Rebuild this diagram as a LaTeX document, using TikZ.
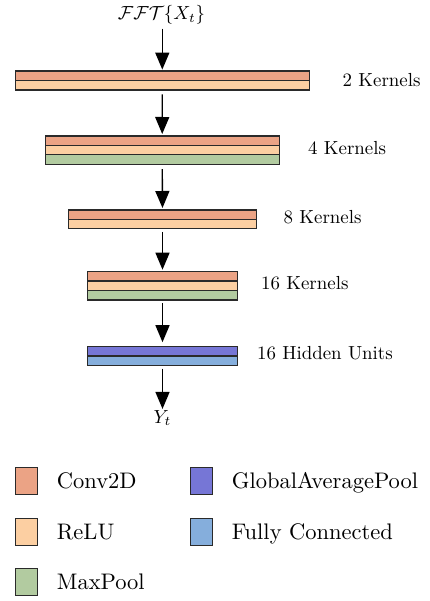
\RequirePackage{fix-cm}
\documentclass[tikz,border=0pt]{standalone}
\usepackage{amsmath}
\usepackage{graphicx}
\usetikzlibrary{arrows.meta}

\definecolor{convc}{HTML}{EBA385}
\definecolor{reluc}{HTML}{FCCFA2}
\definecolor{poolc}{HTML}{B2CBA0}
\definecolor{gapc}{HTML}{7676D6}
\definecolor{fcc}{HTML}{85AEDC}
\definecolor{edgec}{HTML}{2A2A2A}

% 10pt text enlarged as a whole, keeping the 10pt glyph design
\newcommand\layertext[1]{\scalebox{1.89}{\fontsize{10}{12}\selectfont #1}}
\newcommand\keytext[1]{\scalebox{2.25}{\fontsize{10}{12}\selectfont #1}}

\tikzset{
  layer/.style={draw=edgec, line width=1.3pt, inner sep=0pt, outer sep=0pt,
                minimum height=9.4pt},
  flow/.style={line width=1.4pt, -{Triangle[width=14pt,length=17pt]}},
  lbl/.style={anchor=base west, inner sep=0pt},
  keybox/.style={draw=edgec, line width=1.1pt, inner sep=0pt,
                 minimum width=22pt, minimum height=27pt},
  io/.style={inner sep=0pt},
}

\begin{document}
\begin{tikzpicture}[x=1pt,y=-1pt]
\useasboundingbox (0,0) rectangle (429,601);

% input
\node[io] (in) at (161.5,15) {\layertext{$\mathcal{FFT}\{X_t\}$}};

% block 1: conv + relu
\node[layer, fill=convc, minimum width=294pt] (b1a) at (162.3,75.8) {};
\node[layer, fill=reluc, minimum width=294pt, anchor=north] (b1b) at (b1a.south) {};
\node[lbl] (t1) at (342.5,87) {\layertext{2 Kernels}};

% block 2: conv + relu + maxpool
\node[layer, fill=convc, minimum width=234pt] (b2a) at (162.2,140.7) {};
\node[layer, fill=reluc, minimum width=234pt, anchor=north] (b2b) at (b2a.south) {};
\node[layer, fill=poolc, minimum width=234pt, anchor=north] (b2c) at (b2b.south) {};
\node[lbl] (t2) at (308,154.3) {\layertext{4 Kernels}};

% block 3: conv + relu
\node[layer, fill=convc, minimum width=188pt] (b3a) at (162.5,214.7) {};
\node[layer, fill=reluc, minimum width=188pt, anchor=north] (b3b) at (b3a.south) {};
\node[lbl] (t3) at (283.5,223.2) {\layertext{8 Kernels}};

% block 4: conv + relu + maxpool
\node[layer, fill=convc, minimum width=150pt] (b4a) at (162.5,276.4) {};
\node[layer, fill=reluc, minimum width=150pt, anchor=north] (b4b) at (b4a.south) {};
\node[layer, fill=poolc, minimum width=150pt, anchor=north] (b4c) at (b4b.south) {};
\node[lbl] (t4) at (261,289.3) {\layertext{16 Kernels}};

% block 5: global average pooling + dense
\node[layer, fill=gapc, minimum width=150pt] (b5a) at (162.5,351.4) {};
\node[layer, fill=fcc, minimum width=150pt, anchor=north] (b5b) at (b5a.south) {};
\node[lbl] (t5) at (257,359.8) {\layertext{16 Hidden Units}};

% output
\node[io] (out) at (162.5,418) {\layertext{$Y_t$}};

% data flow
\draw[flow, shorten <=4pt, shorten >=1.5pt] (in.south -| b1a.north) -- (b1a.north);
\draw[flow, shorten <=4.5pt, shorten >=2pt] (b1b.south) -- (b2a.north);
\draw[flow, shorten <=5pt, shorten >=2pt] (b2c.south) -- (b3a.north);
\draw[flow, shorten <=3pt, shorten >=2pt] (b3b.south) -- (b4a.north);
\draw[flow, shorten <=3.5pt, shorten >=4.5pt] (b4c.south) -- (b5a.north);
\draw[flow, shorten <=3pt, shorten >=1pt] (b5b.south) -- (out.north);

% legend
\node[keybox, fill=convc] (k1) at (26.5,481) {};
\node[keybox, fill=reluc] (k2) at (26.5,531.7) {};
\node[keybox, fill=poolc] (k3) at (26.5,582.3) {};
\node[keybox, fill=gapc] (k4) at (201.3,481) {};
\node[keybox, fill=fcc] (k5) at (201.3,531.7) {};
\node[lbl] (l1) at (56.7,488.7) {\keytext{Conv2D}};
\node[lbl] (l2) at (56.7,539) {\keytext{ReLU}};
\node[lbl] (l3) at (56.7,589.3) {\keytext{MaxPool}};
\node[lbl] (l4) at (231.7,488.7) {\keytext{GlobalAveragePool}};
\node[lbl] (l5) at (231.7,539) {\keytext{Fully Connected}};
\end{tikzpicture}
\end{document}
